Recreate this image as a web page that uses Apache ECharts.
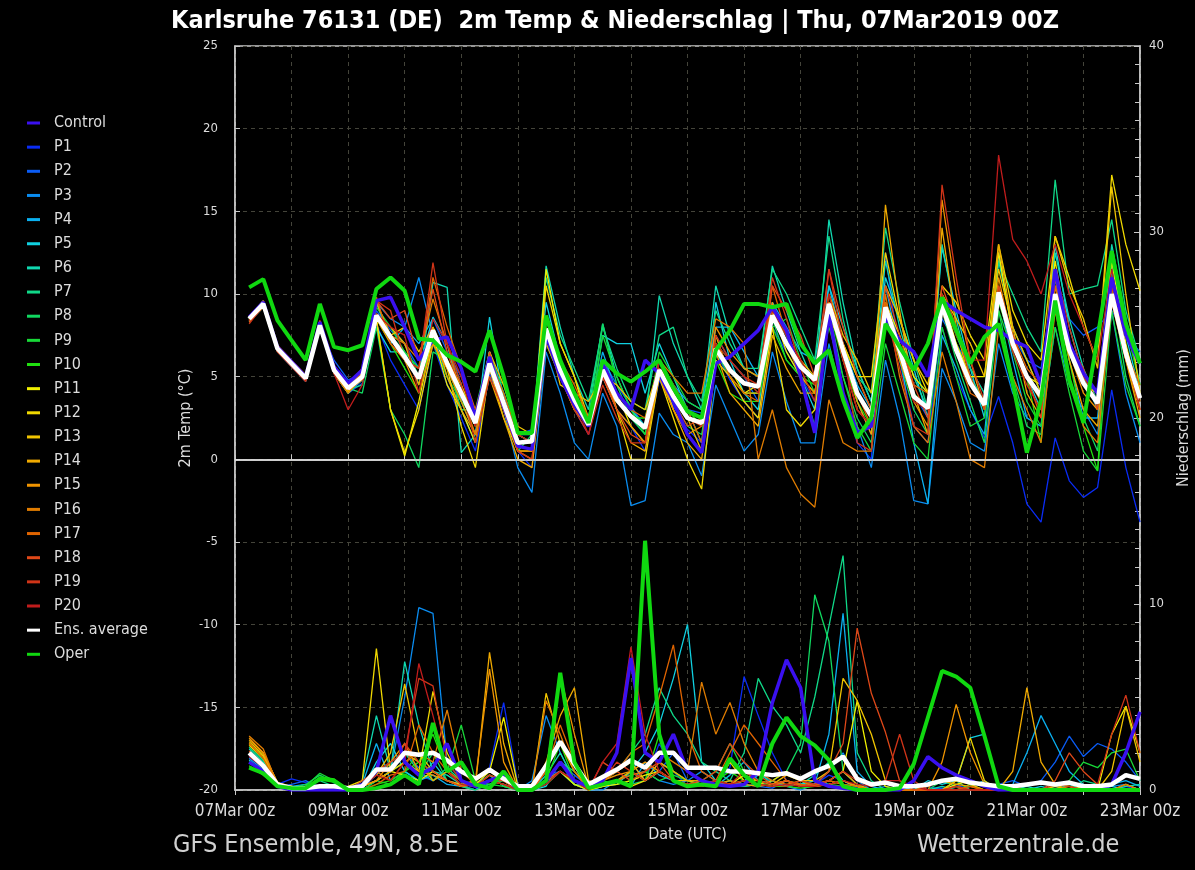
<!DOCTYPE html>
<html>
<head>
<meta charset="utf-8">
<title>Karlsruhe 76131 (DE) 2m Temp & Niederschlag</title>
<script src="https://cdn.jsdelivr.net/npm/echarts/dist/echarts.min.js"></script>
<style>
  html, body { margin: 0; padding: 0; background: #000; }
  #chart { width: 1195px; height: 870px; }
</style>
</head>
<body>
<div id="chart"></div>
<script>
// Time axis: 6-hourly steps from 07Mar 00z to 23Mar 00z
const MONTH = 'Mar';
const START_DAY = 7;
const N_DAYS = 16;
const HOUR_TAGS = ['00z', '06z', '12z', '18z'];

// 2m temperature (°C), 07Mar 06z .. 23Mar 00z, four values per day (06z, 12z, 18z, 00z)
const T_CONTROL = [8.6,9.5,6.8,5.9, 5.0,8.3,5.6,4.6, 5.4,9.6,9.8,8.0, 6.0,7.2,7.4,5.5, 2.5,6.2,3.2,0.8, 0.6,7.5,5.0,3.3, 2.0,5.8,4.0,3.0, 6.0,5.2,3.5,1.5, 0.4,5.8,6.2,7.0, 7.8,9.2,7.8,5.0, 1.6,8.8,4.0,1.6, 2.0,8.6,7.2,6.5, 5.0,9.6,9.0,8.5, 8.0,7.8,7.2,6.8, 4.5,11.5,7.0,5.2, 4.0,11.0,7.5,5.8];
const T_P1 = [8.4,9.3,6.6,5.7, 4.8,8.0,5.2,4.0, 4.6,8.2,6.0,4.5, 3.0,7.0,4.5,2.5, 0.5,5.2,3.0,0.5, -0.5,7.0,5.0,3.0, 1.5,5.0,3.0,2.0, 0.5,4.8,3.2,1.8, 1.0,6.5,4.8,3.5, 2.5,8.0,6.5,5.0, 3.5,8.5,4.0,1.0, 0.0,12.5,6.0,2.0, 1.0,8.0,5.0,3.0, 1.3,3.8,1.0,-2.7, -3.8,1.3,-1.3,-2.3, -1.7,4.2,-0.5,-3.8];
const T_P2 = [8.5,9.4,6.7,5.8, 4.9,8.0,6.0,4.8, 5.2,9.0,7.8,7.0, 5.5,8.5,6.5,5.0, 2.8,6.5,4.0,1.5, 1.8,8.5,6.0,4.0, 2.5,6.0,4.5,3.2, 2.0,5.5,4.5,3.0, 2.8,7.5,6.0,5.0, 3.5,9.5,7.0,5.5, 5.0,9.0,7.0,3.5, 1.5,8.5,6.5,4.0, 2.5,8.5,7.0,5.5, 4.0,9.5,7.5,6.0, 5.5,11.0,8.5,7.5, 8.0,9.0,7.5,6.5];
const T_P3 = [8.3,9.2,6.5,5.6, 4.7,8.0,5.2,4.0, 4.8,9.5,8.5,8.0, 11.0,7.5,5.0,3.0, 1.0,5.0,3.0,-0.5, -2.0,6.5,4.0,1.0, 0.0,4.0,2.0,-2.8, -2.5,2.8,1.5,1.0, -1.0,4.5,2.5,0.5, 1.5,6.5,3.5,1.0, 1.0,7.0,3.5,2.0, -0.5,6.0,2.5,-2.5, -2.7,5.5,3.5,1.0, 0.5,7.0,4.0,2.5, 2.0,8.0,4.5,3.0, 1.5,9.0,4.0,1.0];
const T_P4 = [8.6,9.5,6.8,5.9, 5.0,8.2,5.5,4.5, 5.2,9.5,7.0,8.0, 7.0,8.5,7.0,4.5, 2.0,6.0,4.0,1.5, 1.0,8.0,5.5,3.5, 2.5,6.5,4.0,3.0, 2.0,6.0,4.5,3.5, 3.0,8.0,8.0,6.5, 5.0,9.5,8.0,6.5, 6.0,10.5,7.0,4.5, 3.0,10.5,6.5,1.0, -2.7,7.5,5.5,3.0, 1.5,10.0,6.0,2.5, 2.0,11.0,6.0,2.5, 2.5,11.5,6.0,3.5];
const T_P5 = [8.5,9.5,6.6,5.8, 5.0,8.1,5.3,4.2, 5.0,8.0,6.5,6.5, 5.5,8.6,7.0,3.5, 1.5,8.6,3.5,1.5, 1.5,9.5,6.0,4.0, 2.0,7.5,7.0,7.0, 4.0,7.0,5.0,3.0, 1.0,9.5,6.0,4.0, 3.0,9.0,7.5,5.0, 3.0,10.5,8.0,5.5, 3.5,11.0,8.5,5.5, 2.5,12.8,9.0,5.5, 2.5,12.5,7.5,5.0, 3.0,13.0,8.0,5.0, 3.0,12.0,7.5,4.0];
const T_P6 = [8.6,9.6,6.8,5.9, 5.0,8.2,5.6,4.4, 5.0,8.5,7.5,6.5, 4.5,10.7,10.4,0.4, 1.5,6.5,3.5,1.0, 1.0,11.7,8.0,5.0, 3.0,8.2,5.0,3.0, 2.0,9.9,7.0,5.0, 3.0,10.5,7.5,5.5, 5.0,11.7,9.0,6.5, 4.5,14.5,9.5,5.5, 3.5,12.0,8.0,5.0, 3.0,13.0,8.5,5.0, 3.5,12.0,8.0,6.0, 4.0,12.5,8.5,5.5, 3.5,13.0,8.5,4.5];
const T_P7 = [8.4,9.3,6.6,5.7, 4.8,8.0,5.4,4.2, 4.5,8.8,8.0,7.0, 5.0,8.0,5.5,3.5, 2.5,6.5,4.0,1.5, 1.0,11.0,7.5,5.5, 3.5,8.0,5.5,3.5, 3.0,7.5,8.0,5.0, 3.5,9.0,7.0,5.5, 5.5,11.5,10.0,8.0, 6.0,13.5,8.5,5.0, 4.0,14.0,9.5,6.0, 3.0,10.0,7.5,5.5, 4.0,12.0,10.0,8.0, 6.5,16.9,10.0,10.3, 10.5,14.5,9.0,6.0];
const T_P8 = [8.5,9.4,6.7,5.8, 4.9,8.1,5.4,4.3, 4.0,8.0,3.0,1.5, -0.5,6.5,6.0,3.0, 3.0,6.5,3.5,0.5, 1.5,8.5,5.5,3.5, 2.5,8.2,4.5,2.5, 1.5,5.5,3.5,2.0, 1.5,6.5,5.0,4.0, 4.0,8.5,6.0,5.0, 2.0,9.0,5.0,2.5, 1.0,9.0,6.0,3.0, 1.5,9.0,6.0,3.5, 1.0,9.0,5.0,2.0, 1.5,9.5,4.5,2.5, 0.5,10.5,5.0,2.0];
const T_P9 = [8.5,9.5,6.8,5.8, 5.0,8.0,5.3,4.0, 5.2,9.2,8.0,6.5, 5.5,7.0,5.0,3.5, 2.5,5.5,4.5,1.5, 1.0,7.5,5.0,3.0, 2.0,7.5,5.0,3.0, 1.5,6.5,5.0,3.5, 3.0,7.0,6.0,5.0, 4.0,8.0,8.5,6.0, 4.0,8.0,5.0,2.0, 0.5,7.0,4.0,1.0, 0.0,8.0,5.0,2.0, 2.5,9.0,6.5,3.5, 2.0,8.0,4.0,0.5, -0.7,9.0,4.5,2.0];
const T_P10 = [8.6,9.4,6.7,5.9, 4.9,8.2,5.5,4.4, 5.0,8.5,7.0,5.5, 4.0,7.5,6.0,4.5, 2.0,5.5,3.0,1.0, 1.0,7.0,5.0,3.5, 2.0,5.0,3.5,2.5, 2.5,6.0,4.5,3.0, 2.0,6.0,4.0,3.5, 3.5,8.0,6.0,5.0, 4.5,9.0,6.0,3.5, 2.0,8.5,6.5,4.0, 3.0,9.5,7.0,5.0, 3.0,9.5,7.0,5.0, 1.0,9.5,6.0,2.0, -0.7,12.5,8.0,4.5];
const T_P11 = [8.5,9.4,6.7,5.8, 4.8,8.0,5.2,4.0, 5.0,8.4,3.0,0.2, 3.5,7.5,4.5,3.0, 1.0,6.0,3.0,0.5, 0.5,11.5,7.0,5.0, 2.0,6.0,4.0,2.0, 1.0,5.5,3.0,1.5, 0.5,7.0,5.5,4.0, 4.5,9.0,6.5,5.0, 4.0,9.0,7.0,5.0, 3.0,9.5,7.5,5.0, 4.0,10.0,7.0,5.0, 5.0,12.5,7.5,5.0, 4.5,12.0,7.0,4.5, 4.0,12.0,7.0,3.5];
const T_P12 = [8.4,9.3,6.6,5.7, 4.8,8.0,5.3,4.1, 5.0,8.5,3.0,0.4, 3.0,7.0,5.5,2.0, -0.5,5.5,2.5,0.5, 0.5,10.5,7.0,5.0, 2.5,5.0,3.0,0.0, 0.0,5.0,2.5,0.0, -1.8,6.0,5.0,3.5, 2.5,8.0,3.0,2.0, 3.0,8.5,7.0,5.0, 5.0,12.5,8.5,6.0, 4.0,10.5,9.5,7.5, 6.0,13.0,9.0,7.0, 6.0,13.5,11.0,8.0, 6.0,17.2,13.0,10.2];
const T_P13 = [8.6,9.5,6.8,5.8, 5.0,8.2,5.4,4.3, 5.3,9.5,7.5,8.0, 6.5,8.0,6.0,4.5, 2.5,6.5,4.5,2.0, 1.5,8.0,4.5,4.0, 3.5,5.0,4.5,3.5, 3.0,5.5,4.0,2.5, 0.5,7.5,5.0,4.0, 4.0,9.0,7.5,6.0, 5.0,10.0,7.5,6.0, 4.0,10.5,8.5,6.0, 4.5,10.0,8.5,7.0, 5.0,11.5,8.0,6.0, 4.0,13.5,10.5,8.5, 5.5,16.5,10.0,4.0];
const T_P14 = [8.5,9.4,6.7,5.8, 4.9,8.1,5.5,4.3, 5.0,8.7,8.0,7.0, 4.5,8.0,5.0,3.0, 1.5,5.0,2.5,0.0, -0.5,7.0,5.0,3.0, 2.0,6.0,3.0,1.0, 0.5,5.0,3.0,1.0, 0.0,6.5,4.0,3.0, 2.0,7.5,5.5,4.0, 4.0,9.5,6.5,3.5, 1.5,15.4,9.0,4.0, 1.5,14.0,8.0,4.5, 3.5,13.0,8.0,4.0, 2.5,10.5,6.0,3.0, 2.0,10.5,6.0,2.5];
const T_P15 = [8.4,9.3,6.6,5.7, 4.8,8.0,5.3,4.2, 4.8,8.5,7.0,6.0, 4.0,7.0,5.5,3.5, 1.5,5.5,3.0,0.5, 0.0,8.0,6.0,4.0, 2.0,5.5,3.0,2.0, 1.0,5.0,3.0,1.5, 2.0,8.0,6.5,5.5, 5.0,9.5,7.0,5.0, 4.0,9.5,6.0,3.0, 2.0,9.0,6.0,3.5, 2.0,15.7,10.0,6.0, 3.0,11.0,7.0,5.0, 3.5,10.0,6.5,4.0, 3.0,10.0,6.0,3.0];
const T_P16 = [8.3,9.2,6.5,5.7, 4.8,7.9,5.2,4.0, 5.0,8.8,7.5,7.0, 6.0,9.7,7.0,4.0, 1.5,5.5,3.0,0.5, 0.5,8.0,5.0,3.0, 2.0,5.5,3.5,2.5, 2.0,6.0,5.0,4.0, 4.0,8.5,8.0,7.0, 0.0,3.0,-0.5,-2.1, -2.9,3.6,1.0,0.5, 0.5,10.0,5.0,2.0, 1.0,6.5,3.5,0.0, -0.5,8.0,5.0,3.0, 1.0,9.0,5.0,2.0, 1.0,9.5,6.0,4.0];
const T_P17 = [8.5,9.5,6.8,5.8, 4.9,8.2,5.6,4.4, 5.2,9.8,7.0,6.0, 5.5,11.0,8.0,5.5, 3.0,6.0,4.0,1.5, 1.0,8.0,6.0,4.5, 2.5,5.5,4.0,3.0, 2.5,5.5,4.5,3.0, 1.0,7.0,5.0,4.0, 3.5,10.5,7.5,6.0, 4.5,10.0,7.0,4.0, 2.0,9.5,7.0,4.5, 4.0,9.0,6.5,4.0, 3.5,10.5,7.5,5.5, 4.5,10.5,7.0,5.0, 4.0,9.5,6.5,4.5];
const T_P18 = [8.6,9.6,6.9,6.0, 5.1,8.4,5.7,4.5, 5.5,9.6,8.5,9.0, 6.0,10.3,6.5,4.0, 2.0,6.5,3.5,1.0, 1.0,8.5,6.0,3.5, 2.0,5.0,3.0,1.5, 1.0,5.5,3.5,2.0, 2.5,7.0,5.5,4.5, 4.5,10.5,9.0,7.5, 5.0,11.5,8.0,5.0, 3.0,10.5,7.5,4.5, 2.5,10.5,8.0,5.0, 3.0,10.5,7.5,5.0, 2.5,11.0,7.0,5.5, 3.0,11.0,6.5,3.0];
const T_P19 = [8.2,9.3,6.5,5.6, 4.7,8.0,5.3,4.2, 5.0,9.6,9.0,6.0, 5.5,11.9,7.0,4.5, 1.0,5.0,3.0,0.5, 0.0,7.5,5.0,3.0, 1.5,4.5,2.5,1.0, 1.0,6.0,4.0,2.5, 2.0,7.5,6.0,5.0, 4.5,11.0,8.5,5.5, 3.5,11.5,7.0,1.0, 0.5,9.0,5.5,2.0, 1.5,16.6,11.0,6.0, 3.5,10.0,6.5,4.5, 3.0,11.5,8.0,5.0, 3.5,10.5,6.5,3.0];
const T_P20 = [8.4,9.4,6.6,5.7, 4.8,8.0,5.2,3.0, 4.5,8.8,8.0,7.5, 4.0,8.5,7.0,5.0, 2.0,6.0,3.5,1.5, 1.0,8.0,5.5,3.5, 1.5,5.0,3.5,2.5, 2.0,6.0,4.5,3.0, 2.5,7.0,6.0,5.0, 4.0,9.0,7.5,6.0, 4.5,10.0,6.0,3.0, 2.0,9.0,6.5,3.5, 3.0,10.0,7.5,6.0, 6.0,18.4,13.3,12.0, 10.0,13.0,10.0,8.0, 6.0,11.5,6.5,3.5];
const T_AVG = [8.5,9.4,6.7,5.8, 4.9,8.1,5.4,4.3, 5.0,8.7,7.4,6.2, 4.9,7.8,5.8,4.0, 2.2,5.8,3.4,1.0, 1.1,7.9,5.4,3.6, 2.1,5.4,3.6,2.6, 1.9,5.4,3.8,2.5, 2.2,6.7,5.4,4.6, 4.4,8.7,7.0,5.6, 4.8,9.4,6.6,4.0, 2.6,9.2,6.6,3.8, 3.1,9.4,6.6,4.6, 3.3,10.1,7.0,5.0, 3.8,10.0,6.6,4.6, 3.4,10.0,6.4,3.7];
const T_OPER = [10.4,10.9,8.4,7.2, 6.0,9.4,6.8,6.6, 6.9,10.3,11.0,10.2, 7.3,7.2,6.3,5.9, 5.3,7.8,5.0,1.6, 1.6,8.7,6.0,4.0, 2.2,6.0,5.2,4.7, 5.3,6.0,4.3,2.9, 2.5,6.6,7.8,9.4, 9.4,9.2,9.4,7.0, 5.8,6.6,3.6,1.3, 2.5,8.2,6.8,5.4, 7.0,9.8,7.8,5.8, 7.4,8.2,4.6,0.4, 3.6,9.6,4.8,2.2, 7.4,12.6,8.2,5.8];

// 6-hourly precipitation (mm), same time steps, eight values per group
const R_CONTROL = [1.5,1.0,0.2,0.0,0.0,0.0,0.0,0.0, 0.3,1.0,4.0,1.5,0.8,1.2,2.5,0.5, 0.2,0.5,0.8,0.0,0.0,0.5,1.5,0.5, 0.2,0.5,2.0,7.1,2.0,1.5,3.0,1.0, 0.5,0.3,0.2,0.3,1.0,4.7,7.0,5.5, 0.5,0.2,0.1,0.0,0.0,0.0,0.0,0.5, 1.8,1.2,0.8,0.5,0.2,0.0,0.0,0.0, 0.0,0.0,0.0,0.0,0.0,0.3,2.0,4.2];
const R_P1 = [1.8,1.2,0.3,0.6,0.4,0.2,0.1,0.0, 0.2,0.5,1.0,1.5,0.8,0.5,1.0,0.3, 0.0,1.2,4.7,0.3,0.0,0.8,1.0,0.5, 0.0,0.2,0.5,1.0,0.5,2.5,1.0,0.2, 0.5,0.3,1.2,6.1,4.0,2.0,0.5,0.2, 0.3,0.8,0.5,0.1,0.0,0.0,0.0,0.0, 0.2,0.0,0.3,0.0,0.0,0.0,0.0,0.0, 0.0,0.3,0.0,0.0,0.0,0.0,0.2,0.0];
const R_P2 = [1.9,1.3,0.2,0.3,0.5,0.1,0.0,0.0, 0.1,0.8,1.5,2.0,1.2,1.0,0.5,0.3, 0.2,0.5,0.3,0.0,0.0,0.5,1.5,0.8, 0.2,0.5,1.0,1.5,0.5,1.0,2.0,0.5, 0.3,0.2,0.5,0.3,0.2,0.1,0.5,0.3, 0.2,0.5,1.0,0.3,0.0,0.0,0.0,0.2, 0.0,0.1,0.0,0.0,0.0,0.3,0.5,0.2, 0.5,1.5,2.9,1.8,2.5,2.2,1.5,0.5];
const R_P3 = [1.7,1.1,0.2,0.2,0.1,0.0,0.0,0.0, 0.0,0.5,1.0,5.0,9.8,9.5,1.5,0.5, 0.2,0.3,0.8,0.0,0.5,4.0,2.0,0.5, 0.0,0.0,0.5,0.8,1.0,0.5,0.3,0.5, 1.0,0.5,0.2,0.3,0.8,0.5,0.2,0.0, 0.3,1.0,2.0,0.5,0.0,0.2,0.0,0.0, 0.0,0.0,0.2,0.0,0.0,0.0,0.0,0.0, 0.0,0.2,0.0,0.0,0.0,0.2,0.3,0.0];
const R_P4 = [2.0,1.4,0.3,0.2,0.3,0.1,0.1,0.0, 0.3,2.5,0.5,1.0,0.5,0.8,0.3,0.2, 0.0,0.5,0.3,0.0,0.0,0.5,1.0,0.3, 0.2,0.3,0.5,0.2,1.5,0.8,0.5,0.3, 0.5,0.2,0.8,1.5,0.5,0.3,0.2,0.5, 0.3,3.0,9.5,1.0,0.2,0.0,0.0,0.0, 0.0,0.0,0.0,0.2,0.5,0.0,0.3,2.0, 4.0,2.5,1.0,0.3,0.2,0.3,0.5,0.2];
const R_P5 = [1.6,1.0,0.2,0.1,0.0,0.2,0.3,0.0, 0.0,1.5,2.5,1.0,0.5,1.5,0.5,0.2, 0.3,0.8,0.2,0.0,0.0,0.2,1.5,0.3, 0.0,0.2,0.3,1.0,2.0,3.5,6.0,8.9, 1.5,0.5,0.3,0.2,0.3,0.5,0.2,0.3, 0.5,0.3,0.5,0.2,0.0,0.0,0.2,0.0, 0.5,0.3,0.5,2.8,3.0,0.3,0.0,0.0, 0.2,0.0,0.0,0.0,0.3,0.2,0.0,0.0];
const R_P6 = [2.2,1.5,0.3,0.1,0.2,0.1,0.0,0.0, 0.5,4.0,1.0,6.9,3.5,1.0,0.8,0.3, 0.2,0.5,1.0,0.0,0.0,0.8,2.0,0.5, 0.0,0.3,0.5,1.0,0.5,1.5,1.0,0.5, 0.3,0.5,0.2,0.5,1.0,0.3,0.2,0.3, 0.8,1.5,0.5,0.2,0.0,0.0,0.0,0.0, 0.0,0.2,0.0,0.0,0.0,0.0,0.0,0.2, 0.0,0.0,0.3,0.0,0.0,0.0,0.2,0.3];
const R_P7 = [2.3,1.6,0.3,0.2,0.1,0.5,0.2,0.0, 0.3,1.0,1.5,2.0,1.0,0.5,1.2,0.5, 0.3,0.5,0.8,0.0,0.0,0.5,1.5,1.0, 0.3,0.5,1.0,2.0,3.0,5.5,4.0,3.0, 1.5,1.0,0.5,2.0,6.0,4.5,3.5,2.0, 5.0,8.8,12.6,2.0,0.5,0.0,0.0,0.0, 0.0,0.0,0.5,0.0,0.0,0.0,0.0,0.0, 0.0,0.0,0.0,0.5,0.3,0.0,0.0,0.0];
const R_P8 = [2.0,1.3,0.2,0.1,0.3,0.8,0.4,0.0, 0.0,0.5,1.0,1.5,0.8,2.0,0.5,0.2, 0.0,0.3,0.5,0.0,0.0,0.3,1.0,0.3, 0.0,0.2,0.5,0.3,0.5,1.0,0.5,0.2, 0.5,0.3,0.5,0.2,0.3,0.5,1.0,2.5, 10.5,8.0,1.0,0.3,0.0,0.0,0.0,0.0, 0.0,0.5,0.2,0.0,0.0,0.0,0.0,0.0, 0.0,0.0,0.0,0.3,0.0,0.0,0.0,0.0];
const R_P9 = [1.5,1.0,0.2,0.1,0.2,0.9,0.5,0.0, 0.0,0.5,0.3,1.0,2.0,0.5,1.0,3.5, 0.5,0.3,0.2,0.0,0.0,0.3,1.0,0.5, 0.0,0.5,0.3,0.5,1.0,0.5,0.8,0.5, 0.5,1.0,2.5,1.0,0.5,0.3,0.5,0.2, 0.2,0.5,0.3,0.2,0.0,0.0,0.0,0.0, 0.0,0.0,0.0,0.3,0.0,0.0,0.0,0.0, 0.0,0.0,0.5,1.5,1.2,2.0,2.2,0.5];
const R_P10 = [1.3,0.8,0.2,0.0,0.1,0.7,0.6,0.0, 0.0,0.3,0.5,1.0,1.5,3.0,1.0,0.5, 0.2,0.5,0.3,0.0,0.0,0.5,2.5,0.5, 0.0,0.2,0.5,1.0,0.5,3.0,1.0,0.5, 0.2,0.5,1.0,0.5,0.3,0.2,0.2,0.1, 0.2,0.3,0.2,0.0,0.0,0.0,0.0,0.0, 0.0,0.0,0.0,0.0,0.0,0.0,0.0,0.0, 0.0,0.0,0.0,0.0,0.0,0.0,0.0,0.0];
const R_P11 = [2.4,1.7,0.3,0.1,0.0,0.1,0.1,0.0, 0.2,0.5,1.0,0.8,0.5,1.0,0.5,0.2, 0.3,1.0,3.9,0.2,0.0,0.5,1.0,0.3, 0.0,0.2,0.3,0.5,0.8,1.0,0.5,0.3, 0.2,0.5,0.3,0.8,0.5,0.3,0.5,0.2, 0.3,0.5,1.0,4.8,1.0,0.2,0.0,0.0, 0.0,0.0,0.3,0.5,0.2,0.0,0.0,0.0, 0.0,0.3,0.2,0.0,0.0,3.0,4.5,2.0];
const R_P12 = [2.5,1.8,0.3,0.2,0.1,0.0,0.1,0.2, 0.5,7.6,1.0,1.5,1.0,5.3,2.0,0.5, 0.2,0.8,0.5,0.0,0.0,0.5,1.0,0.5, 0.0,0.3,0.5,0.2,0.5,1.0,0.5,0.2, 0.3,0.2,1.5,0.5,0.3,0.5,1.0,0.5, 0.2,0.3,0.5,0.2,0.0,0.0,0.0,0.0, 0.0,0.0,0.5,2.8,0.5,0.0,0.0,0.0, 0.0,0.0,0.0,0.2,0.0,0.0,0.3,0.0];
const R_P13 = [2.6,1.9,0.4,0.1,0.2,0.0,0.1,0.0, 0.3,0.8,2.0,5.7,2.0,1.0,0.5,0.3, 0.5,1.0,0.5,0.0,0.0,5.2,2.5,1.0, 0.2,0.5,1.0,1.5,0.5,1.0,0.5,0.5, 0.3,0.5,0.3,0.5,0.5,0.3,0.8,0.5, 0.5,1.0,6.0,4.8,3.0,0.5,0.0,0.0, 0.0,0.0,0.5,0.3,0.0,0.0,0.0,0.0, 0.0,0.2,0.0,0.0,0.0,1.0,4.5,1.5];
const R_P14 = [2.7,2.0,0.4,0.2,0.1,0.0,0.0,0.0, 0.2,0.5,1.0,2.0,1.5,0.5,1.0,0.3, 0.2,7.4,2.5,0.0,0.0,1.5,4.0,5.5, 0.5,0.3,0.5,1.0,0.5,1.5,1.0,0.5, 0.5,0.3,0.5,0.3,0.2,0.3,0.5,0.2, 0.3,0.5,1.0,0.3,0.0,0.0,0.0,0.0, 0.2,0.5,0.3,0.2,0.0,0.0,1.0,5.5, 1.5,0.3,0.0,0.0,0.0,0.0,0.0,0.0];
const R_P15 = [2.8,2.0,0.4,0.1,0.0,0.1,0.1,0.0, 0.2,0.5,1.5,2.5,1.0,0.8,0.5,0.2, 0.5,6.5,1.5,0.0,0.0,1.0,6.2,3.0, 0.2,0.5,0.8,1.0,1.5,1.0,0.5,0.3, 0.2,0.5,0.3,0.5,0.3,0.2,0.5,0.3, 0.2,0.3,0.5,0.2,0.0,0.0,0.0,0.0, 0.0,1.5,4.6,2.0,0.3,0.0,0.0,0.0, 0.0,0.0,0.0,0.0,0.0,0.0,0.0,0.0];
const R_P16 = [2.9,2.2,0.3,0.2,0.1,0.0,0.0,0.0, 0.2,1.0,0.5,1.5,2.0,1.5,4.3,1.0, 0.3,0.5,0.3,0.0,0.0,4.8,3.0,1.0, 0.0,0.3,0.5,0.8,1.0,2.0,1.5,1.0, 5.8,3.0,4.7,2.5,1.0,0.5,0.3,0.5, 0.2,0.5,0.3,0.2,0.0,0.0,0.0,0.0, 0.0,0.0,0.2,0.0,0.0,0.0,0.0,0.0, 0.0,0.0,0.2,0.0,0.0,0.0,0.3,0.0];
const R_P17 = [2.5,1.7,0.3,0.1,0.0,0.0,0.0,0.0, 0.0,0.3,0.8,1.0,3.5,2.0,1.0,0.5, 0.2,0.5,0.3,0.0,0.0,1.0,3.5,1.5, 0.3,0.5,1.0,2.0,2.5,5.0,7.8,3.0, 1.0,0.5,2.0,3.5,2.5,1.5,0.5,0.3, 0.2,0.5,0.3,0.0,0.0,0.0,0.0,0.0, 0.0,0.0,0.0,0.2,0.0,0.0,0.0,0.0, 0.0,0.0,0.0,0.0,0.0,0.0,0.0,0.0];
const R_P18 = [2.1,1.4,0.2,0.1,0.0,0.0,0.0,0.0, 0.5,1.0,1.0,2.5,1.5,1.0,0.5,0.2, 0.3,0.5,0.5,0.0,0.0,0.5,1.5,0.5, 0.0,1.5,1.0,0.5,1.0,1.5,0.5,0.3, 0.5,1.0,2.5,1.5,0.8,0.3,0.5,0.2, 0.3,1.0,2.5,8.7,5.2,3.1,0.5,0.0, 0.0,0.0,0.0,0.0,0.0,0.0,0.2,0.0, 0.0,0.5,2.0,1.0,0.3,0.0,0.0,0.0];
const R_P19 = [2.0,1.3,0.2,0.1,0.0,0.0,0.0,0.0, 0.3,1.0,1.5,2.0,6.0,5.6,1.5,0.5, 0.2,0.8,0.5,0.0,0.0,0.5,1.0,0.5, 0.2,0.5,1.5,1.0,0.5,1.0,0.5,0.3, 0.3,0.5,0.3,1.0,0.5,0.3,0.2,0.5, 0.3,0.5,1.0,0.5,0.2,0.5,3.0,0.5, 0.0,0.0,0.2,0.0,0.0,0.0,0.0,0.0, 0.0,0.3,0.2,0.0,0.3,3.0,5.1,2.0];
const R_P20 = [1.8,1.2,0.2,0.1,0.0,0.0,0.0,0.0, 0.2,0.8,0.5,1.5,6.8,4.0,1.0,0.3, 0.2,0.5,0.3,0.0,0.0,0.3,1.0,0.5, 0.0,1.5,2.5,7.7,3.0,1.0,0.5,0.3, 0.2,0.5,0.3,0.5,0.3,0.2,0.3,0.2, 0.2,0.3,0.5,0.3,0.2,0.5,0.5,0.2, 0.0,0.0,0.0,0.0,0.0,0.0,0.0,0.0, 0.0,0.0,0.0,0.0,0.0,0.0,0.0,0.0];
const R_AVG = [2.0,1.3,0.3,0.1,0.1,0.2,0.2,0.1, 0.2,1.1,1.1,2.0,1.9,2.0,1.6,1.0, 0.6,1.1,0.6,0.2,0.2,1.3,2.6,1.4, 0.3,0.7,1.1,1.6,1.2,2.0,2.0,1.2, 1.2,1.2,1.0,1.0,0.9,0.8,0.9,0.6, 1.0,1.3,1.8,0.6,0.3,0.4,0.2,0.2, 0.3,0.5,0.6,0.4,0.3,0.2,0.2,0.3, 0.4,0.3,0.4,0.2,0.2,0.3,0.8,0.6];
const R_OPER = [1.2,0.9,0.2,0.1,0.1,0.6,0.5,0.0, 0.0,0.1,0.3,0.8,0.3,3.6,1.0,1.5, 0.3,0.1,1.0,0.0,0.0,0.5,6.3,1.5, 0.1,0.3,0.5,0.2,13.4,3.0,0.5,0.2, 0.3,0.2,1.7,0.8,0.2,2.5,3.9,2.9, 2.4,1.6,0.2,0.0,0.0,0.0,0.1,1.4, 3.9,6.4,6.1,5.5,2.9,0.2,0.0,0.0, 0.0,0.0,0.0,0.0,0.0,0.0,0.0,0.0];

const LEGEND_NAMES = ['Control','P1','P2','P3','P4','P5','P6','P7','P8','P9','P10','P11','P12','P13','P14','P15','P16','P17','P18','P19','P20','Ens. average','Oper'];
const LEFT_TICKS = [-20, -15, -10, -5, 0, 5, 10, 15, 20, 25];
const RIGHT_TICKS = [0, 10, 20, 30, 40];

// build the 6-hourly time stamps
const TIMES = [];
for (let d = 0; d <= N_DAYS; d++) {
  for (const h of HOUR_TAGS) {
    if (d === N_DAYS && h !== '00z') break;
    TIMES.push(String(START_DAY + d).padStart(2, '0') + MONTH + ' ' + h);
  }
}

const TEMP = [T_CONTROL,T_P1,T_P2,T_P3,T_P4,T_P5,T_P6,T_P7,T_P8,T_P9,T_P10,T_P11,T_P12,T_P13,T_P14,T_P15,T_P16,T_P17,T_P18,T_P19,T_P20,T_AVG,T_OPER];
const PRCP = [R_CONTROL,R_P1,R_P2,R_P3,R_P4,R_P5,R_P6,R_P7,R_P8,R_P9,R_P10,R_P11,R_P12,R_P13,R_P14,R_P15,R_P16,R_P17,R_P18,R_P19,R_P20,R_AVG,R_OPER];

// spectral palette for members, white for the mean, green for the operational run
const COLORS = ['#3a10f0','#0a2cf5','#0a5cf5','#0a8cf0','#0ab0f0','#10d0e0','#10d8b0','#10d888','#10d860','#18d838','#20e010',
                '#f0f000','#f0d800','#f0c400','#f0aa00','#f09400','#e07c00','#e06400','#e04818','#d03418','#c01c1c','#ffffff','#10d810'];
const WIDTHS = LEGEND_NAMES.map(n => n === 'Control' ? 3.5 : n === 'Ens. average' ? 4.5 : n === 'Oper' ? 4 : 1.3);

const FONT = '"DejaVu Sans Condensed", "DejaVu Sans", sans-serif';
const TXT = '#dddddd';

// draw members first, then Control, Ens. average and Oper on top
const drawOrder = [];
for (let i = 1; i <= 20; i++) drawOrder.push(i);
drawOrder.push(0, 21, 22);

const series = [];
drawOrder.forEach((i, k) => {
  const base = {
    name: LEGEND_NAMES[i],
    type: 'line',
    symbol: 'none',
    silent: true,
    color: COLORS[i],
    lineStyle: { color: COLORS[i], width: WIDTHS[i] },
    itemStyle: { color: COLORS[i] },
    z: 2 + k * 0.01
  };
  const tSeries = Object.assign({}, base, { yAxisIndex: 0, data: [null].concat(TEMP[i]) });
  if (k === 0) {
    tSeries.markLine = {
      silent: true, symbol: 'none', label: { show: false },
      lineStyle: { color: '#e0e0e0', width: 1.5, type: 'solid' },
      data: [{ yAxis: 0 }]
    };
  }
  series.push(tSeries);
  series.push(Object.assign({}, base, { yAxisIndex: 1, data: [null].concat(PRCP[i]) }));
});

const chart = echarts.init(document.getElementById('chart'), null, { renderer: 'canvas' });
chart.setOption({
  backgroundColor: '#000',
  animation: false,
  grid: { left: 235, right: 55, top: 46, bottom: 80, outerBoundsMode: 'none', containLabel: false,
          show: true, borderColor: '#c8c8c8', borderWidth: 1.5 },
  legend: {
    data: LEGEND_NAMES,
    orient: 'vertical',
    left: 27, top: 115, padding: 0,
    icon: 'rect', itemWidth: 13, itemHeight: 3, itemGap: 8.15,
    selectedMode: false,
    textStyle: { color: TXT, fontSize: 16, lineHeight: 16, fontFamily: FONT, padding: [0, 0, 0, 9] }
  },
  xAxis: [{
    type: 'category', data: TIMES, boundaryGap: false,
    axisLine: { lineStyle: { color: '#c8c8c8', width: 1.5 } },
    axisTick: { inside: true, interval: 3, length: 5, lineStyle: { color: '#c8c8c8' } },
    axisLabel: { interval: 7, color: TXT, fontSize: 17, fontFamily: FONT, margin: 13 },
    splitLine: { show: true, interval: 3, lineStyle: { color: '#44443a', type: [4, 4], width: 1 } },
    name: 'Date (UTC)', nameLocation: 'middle', nameGap: 37, nameMoveOverlap: false,
    nameTextStyle: { color: TXT, fontSize: 16, fontFamily: FONT }
  }, {
    type: 'category', data: TIMES, boundaryGap: false, position: 'top',
    axisLine: { lineStyle: { color: '#c8c8c8', width: 1.5 } },
    axisTick: { inside: true, interval: 3, length: 5, lineStyle: { color: '#c8c8c8' } },
    axisLabel: { show: false }, splitLine: { show: false }
  }],
  yAxis: [{
    type: 'value', position: 'left', min: LEFT_TICKS[0], max: LEFT_TICKS[LEFT_TICKS.length - 1], interval: 5,
    axisLine: { show: true, lineStyle: { color: '#c8c8c8', width: 1.5 } },
    axisTick: { show: true, inside: true, length: 5, lineStyle: { color: '#c8c8c8' } },
    axisLabel: { color: TXT, fontSize: 13, fontFamily: FONT, margin: 17 },
    splitLine: { show: true, lineStyle: { color: '#44443a', type: [4, 4], width: 1 } },
    name: '2m Temp (°C)', nameLocation: 'middle', nameRotate: 90, nameGap: 41, nameMoveOverlap: false,
    nameTextStyle: { color: TXT, fontSize: 16, fontFamily: FONT }
  }, {
    type: 'value', position: 'right', min: RIGHT_TICKS[0], max: RIGHT_TICKS[RIGHT_TICKS.length - 1], interval: 10,
    axisLine: { show: true, lineStyle: { color: '#c8c8c8', width: 1.5 } },
    axisTick: { show: true, inside: true, length: 6, lineStyle: { color: '#c8c8c8' } },
    minorTick: { show: true, splitNumber: 10, length: 5, lineStyle: { color: '#c8c8c8' } },
    axisLabel: { color: TXT, fontSize: 13, fontFamily: FONT, margin: 9 },
    splitLine: { show: false },
    name: 'Niederschlag (mm)', nameLocation: 'middle', nameRotate: 90, nameGap: 36, nameMoveOverlap: false,
    nameTextStyle: { color: TXT, fontSize: 16, fontFamily: FONT }
  }],
  graphic: [
    { type: 'text', x: 615, y: 21, silent: true,
      style: { text: 'Karlsruhe 76131 (DE)  2m Temp & Niederschlag | Thu, 07Mar2019 00Z', fill: '#ffffff',
               fontSize: 25, fontWeight: 'bold', fontFamily: FONT, align: 'center', verticalAlign: 'middle' } },
    { type: 'text', x: 173, y: 845, silent: true,
      style: { text: 'GFS Ensemble, 49N, 8.5E', fill: '#d0d0d0', fontSize: 25, fontFamily: FONT,
               align: 'left', verticalAlign: 'middle' } },
    { type: 'text', x: 917, y: 845, silent: true,
      style: { text: 'Wetterzentrale.de', fill: '#d0d0d0', fontSize: 25, fontFamily: FONT,
               align: 'left', verticalAlign: 'middle' } }
  ],
  series: series
});
</script>
</body>
</html>
